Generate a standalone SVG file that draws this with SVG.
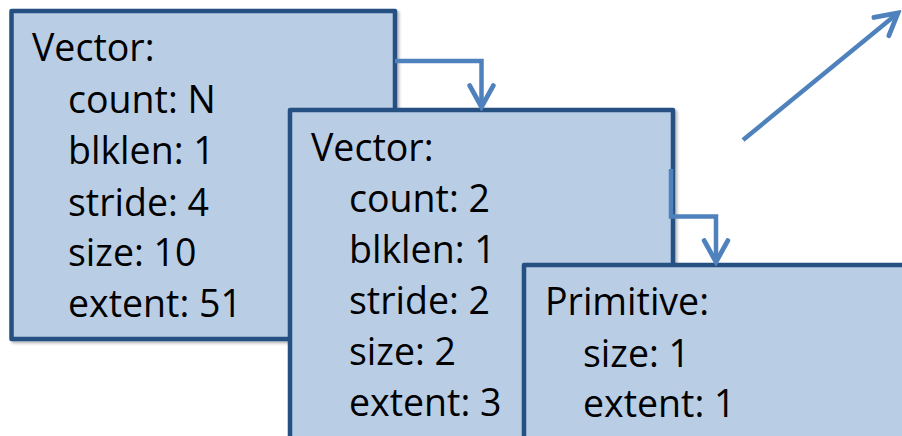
<svg xmlns="http://www.w3.org/2000/svg" width="902" height="436" viewBox="0 0 902 436">
<style>
.box{fill:#B9CDE5;stroke:#264F82;stroke-width:4.5;stroke-linejoin:round;filter:url(#sh)}
.t{font-family:"Open Sans","Liberation Sans",sans-serif;font-size:37.5px;fill:#000}
.c{fill:none;stroke:#4F81BD;stroke-width:4.5;stroke-linejoin:miter}
</style>
<defs>
<filter id="sh" x="-10%" y="-10%" width="120%" height="120%">
<feGaussianBlur in="SourceAlpha" stdDeviation="1.5"/>
<feOffset dx="1.5" dy="2" result="b"/>
<feComponentTransfer><feFuncA type="linear" slope="0.3"/></feComponentTransfer>
<feMerge><feMergeNode/><feMergeNode in="SourceGraphic"/></feMerge>
</filter>
<marker id="ah" markerUnits="userSpaceOnUse" markerWidth="30" markerHeight="30" viewBox="-24 -14 28 28" refX="0" refY="0" orient="auto">
<path d="M-20,-11 L0,0 L-20,11" fill="none" stroke="#4F81BD" stroke-width="4.5" stroke-linejoin="miter" stroke-linecap="round"/>
</marker>
</defs>
<g id="node-vector1">
<rect class="box" x="11.5" y="11" width="383.5" height="328"/>
<text class="t" x="32" y="61">Vector:</text>
<text class="t" x="68" y="113">count: N</text>
<text class="t" x="68" y="164">blklen: 1</text>
<text class="t" x="68" y="216">stride: 4</text>
<text class="t" x="68" y="266">size: 10</text>
<text class="t" x="68" y="317">extent: 51</text>
</g>
<g id="node-vector2">
<rect class="box" x="290" y="110" width="383" height="340"/>
<text class="t" x="311" y="161">Vector:</text>
<text class="t" x="349" y="212">count: 2</text>
<text class="t" x="349" y="263">blklen: 1</text>
<text class="t" x="349" y="314">stride: 2</text>
<text class="t" x="349" y="365">size: 2</text>
<text class="t" x="349" y="416">extent: 3</text>
</g>
<g id="node-primitive">
<rect class="box" x="524" y="265" width="400" height="190"/>
<text class="t" x="545" y="315">Primitive:</text>
<text class="t" x="583" y="367">size: 1</text>
<text class="t" x="583" y="417">extent: 1</text>
</g>
<g id="connectors">
<path class="c" d="M395,61 H481.5 V107" marker-end="url(#ah)"/>
<path class="c" d="M671,169 V216.5 H716 V262" marker-end="url(#ah)"/>
<path class="c" d="M743,140 L898,13" marker-end="url(#ah)"/>
</g>
</svg>
